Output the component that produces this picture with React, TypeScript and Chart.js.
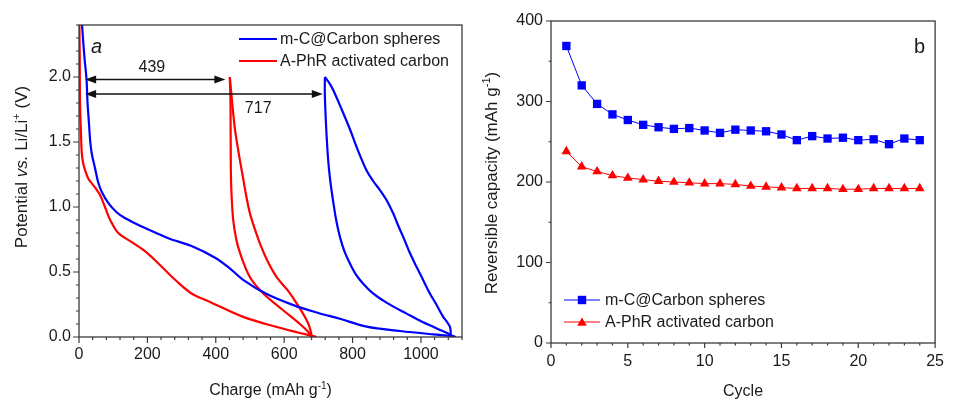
import { useEffect, useRef } from 'react';
import { Chart, registerables } from 'chart.js';

Chart.register(...registerables);

const FONT = '"Liberation Sans", Arial, Helvetica, sans-serif';
const TEXT = '#1a1a1a';
const AXIS = '#3a3a3a';
const BLUE = '#0000ff';
const RED = '#ff0000';

// ---------- Panel a: potential profiles ----------
const mcDischarge1Capacity = [6, 9, 16, 22, 25, 29, 33, 38, 45, 50, 56, 66, 86, 110, 134, 183, 261, 329, 398, 440, 480, 549, 627, 700, 763, 841, 939, 1036, 1090, 1102];
const mcDischarge1Potential = [2.6, 2.4, 2.15, 1.98, 1.8, 1.65, 1.5, 1.4, 1.32, 1.26, 1.19, 1.12, 1.03, 0.96, 0.915, 0.85, 0.76, 0.7, 0.61, 0.53, 0.44, 0.33, 0.245, 0.185, 0.14, 0.08, 0.046, 0.02, 0.008, 0];
const mcChargeCapacity = [1087, 1087, 1085, 1075, 1065, 1045, 1026, 1006, 987, 967, 948, 933, 919, 900, 880, 860, 841, 815, 792, 765, 745, 734, 719];
const mcChargePotential = [0, 0.03, 0.077, 0.12, 0.155, 0.25, 0.335, 0.44, 0.54, 0.65, 0.77, 0.86, 0.95, 1.05, 1.13, 1.2, 1.28, 1.44, 1.6, 1.77, 1.89, 1.945, 2.0];
const mcDischarge2Capacity = [719, 719, 724, 729, 734, 740, 744, 752, 763, 776, 792, 810, 831, 858, 890, 922, 958, 990, 1026, 1060, 1085, 1095];
const mcDischarge2Potential = [2.0, 1.85, 1.55, 1.35, 1.22, 1.1, 1.03, 0.9, 0.77, 0.66, 0.567, 0.48, 0.41, 0.34, 0.28, 0.23, 0.18, 0.135, 0.09, 0.05, 0.02, 0];

const apDischarge1Capacity = [0, 2, 3, 6, 8, 12, 17, 27, 38, 47, 61, 70, 76, 86, 96, 115, 154, 193, 242, 281, 329, 383, 480, 578, 640, 675, 695];
const apDischarge1Potential = [2.6, 2.2, 1.8, 1.55, 1.42, 1.34, 1.29, 1.22, 1.18, 1.15, 1.095, 1.04, 1.0, 0.93, 0.876, 0.8, 0.73, 0.66, 0.54, 0.44, 0.335, 0.27, 0.155, 0.077, 0.035, 0.013, 0];
const apChargeCapacity = [680, 679, 671, 655, 636, 610, 578, 552, 529, 513, 500, 488, 478, 466, 456, 448, 441];
const apChargePotential = [0, 0.03, 0.1, 0.18, 0.26, 0.36, 0.46, 0.58, 0.72, 0.84, 0.95, 1.1, 1.25, 1.43, 1.6, 1.8, 2.0];
const apDischarge2Capacity = [441, 443, 444, 446, 451, 460, 471, 500, 539, 597, 646, 670, 680];
const apDischarge2Potential = [2.0, 1.8, 1.29, 1.1, 0.9, 0.75, 0.645, 0.46, 0.335, 0.206, 0.1, 0.04, 0];

const chargeTicks = [0, 200, 400, 600, 800, 1000];
const potentialTicks = [0, 0.5, 1.0, 1.5, 2.0];

// Arrow annotations (data units)
const arrowFrom = [18, 18];
const arrowTo = [428, 713];
const arrowPotential = [1.98, 1.87];
const arrowLabels = ['439', '717'];
const arrowLabelCapacity = [213, 524];
const arrowLabelPotential = [2.07, 1.76];

// ---------- Panel b: cycling ----------
const cycles = [1, 2, 3, 4, 5, 6, 7, 8, 9, 10, 11, 12, 13, 14, 15, 16, 17, 18, 19, 20, 21, 22, 23, 24];
const mcReversible = [369, 320, 297, 284, 277, 271, 268, 266, 267, 264, 261, 265, 264, 263, 259, 252, 257, 254, 255, 252, 253, 247, 254, 252];
const apReversible = [238, 219, 213, 208, 205, 203, 201, 200, 199, 198, 198, 197, 195, 194, 193, 192, 192, 192, 191, 191, 192, 192, 192, 192];
const cycleTicks = [0, 5, 10, 15, 20, 25];
const capacityTicks = [0, 100, 200, 300, 400];

const seriesNames = ['m-C@Carbon spheres', 'A-PhR activated carbon'];

type Seg = { t: string; italic?: boolean; sup?: boolean };

function segFont(s: Seg, size: number) {
  const sz = s.sup ? Math.round(size * 0.65) : size;
  return `${s.italic ? 'italic ' : ''}${sz}px ${FONT}`;
}

function drawRich(ctx: CanvasRenderingContext2D, segs: Seg[], x: number, y: number, size: number, rotate: boolean) {
  ctx.save();
  ctx.translate(x, y);
  if (rotate) ctx.rotate(-Math.PI / 2);
  let w = 0;
  for (const s of segs) { ctx.font = segFont(s, size); w += ctx.measureText(s.t).width; }
  let cx = -w / 2;
  ctx.fillStyle = TEXT;
  ctx.textBaseline = 'alphabetic';
  ctx.textAlign = 'left';
  for (const s of segs) {
    ctx.font = segFont(s, size);
    ctx.fillText(s.t, cx, s.sup ? -size * 0.4 : 0);
    cx += ctx.measureText(s.t).width;
  }
  ctx.restore();
}

function pts(xs: number[], ys: number[]) {
  return xs.map((x, i) => ({ x, y: ys[i] }));
}

function drawFrameAndTicks(chart: any, xMinor: number, yMinor: number, xMajor: number[], yMajor: number[], len: { xM: number; xm: number; yM: number; ym: number }) {
  const { ctx, chartArea: a, scales } = chart;
  const xs = scales.x, ys = scales.y;
  ctx.save();
  ctx.strokeStyle = AXIS;
  ctx.lineWidth = 1.3;
  ctx.strokeRect(a.left, a.top, a.right - a.left, a.bottom - a.top);
  ctx.lineWidth = 1.2;
  ctx.beginPath();
  const nx = Math.round((xs.max - xs.min) / xMinor);
  for (let i = 0; i <= nx; i++) {
    const v = xs.min + i * xMinor;
    const major = xMajor.some((t) => Math.abs(t - v) < 1e-6);
    const p = xs.getPixelForValue(v);
    ctx.moveTo(p, a.bottom);
    ctx.lineTo(p, a.bottom + (major ? len.xM : len.xm));
  }
  const ny = Math.round((ys.max - ys.min) / yMinor);
  for (let i = 0; i <= ny; i++) {
    const v = ys.min + i * yMinor;
    const major = yMajor.some((t) => Math.abs(t - v) < 1e-6);
    const p = ys.getPixelForValue(v);
    ctx.moveTo(a.left, p);
    ctx.lineTo(a.left - (major ? len.yM : len.ym), p);
  }
  ctx.stroke();
  ctx.restore();
}

function arrowHead(ctx: CanvasRenderingContext2D, x: number, y: number, dir: number) {
  ctx.beginPath();
  ctx.moveTo(x, y);
  ctx.lineTo(x + dir * 11, y - 4);
  ctx.lineTo(x + dir * 11, y + 4);
  ctx.closePath();
  ctx.fill();
}

const panelAPlugin = {
  id: 'panelA',
  afterDraw(chart: any) {
    const { ctx, chartArea: a, scales } = chart;
    drawFrameAndTicks(chart, 40, 0.1, chargeTicks, potentialTicks, { xM: 6, xm: 3, yM: 6, ym: 3 });
    ctx.save();
    ctx.strokeStyle = '#111';
    ctx.fillStyle = '#111';
    ctx.lineWidth = 1.5;
    arrowFrom.forEach((f, i) => {
      const x0 = scales.x.getPixelForValue(f);
      const x1 = scales.x.getPixelForValue(arrowTo[i]);
      const y = scales.y.getPixelForValue(arrowPotential[i]);
      ctx.beginPath();
      ctx.moveTo(x0 + 6, y);
      ctx.lineTo(x1 - 6, y);
      ctx.stroke();
      arrowHead(ctx, x0, y, 1);
      arrowHead(ctx, x1, y, -1);
      ctx.font = `16px ${FONT}`;
      ctx.fillStyle = TEXT;
      ctx.textAlign = 'center';
      ctx.textBaseline = 'middle';
      ctx.fillText(arrowLabels[i], scales.x.getPixelForValue(arrowLabelCapacity[i]), scales.y.getPixelForValue(arrowLabelPotential[i]));
      ctx.fillStyle = '#111';
    });
    ctx.font = `italic 20px ${FONT}`;
    ctx.fillStyle = TEXT;
    ctx.textAlign = 'left';
    ctx.textBaseline = 'alphabetic';
    ctx.fillText('a', a.left + 12, a.top + 28);
    const colors = [BLUE, RED];
    seriesNames.forEach((n, i) => {
      const y = a.top + 14 + i * 22;
      const lx = a.right - 223;
      ctx.strokeStyle = colors[i];
      ctx.lineWidth = 2;
      ctx.beginPath();
      ctx.moveTo(lx, y);
      ctx.lineTo(lx + 38, y);
      ctx.stroke();
      ctx.font = `16px ${FONT}`;
      ctx.fillStyle = TEXT;
      ctx.textBaseline = 'middle';
      ctx.fillText(n, lx + 41, y + 1);
    });
    ctx.restore();
    drawRich(ctx, [{ t: 'Charge (mAh g' }, { t: '-1', sup: true }, { t: ')' }], (a.left + a.right) / 2, 395, 16, false);
    drawRich(ctx, [{ t: 'Potential ' }, { t: 'vs.', italic: true }, { t: ' Li/Li' }, { t: '+', sup: true }, { t: ' (V)' }], 27, 167, 17, true);
  },
};

function drawSquare(ctx: CanvasRenderingContext2D, x: number, y: number, s: number) {
  ctx.fillRect(x - s / 2, y - s / 2, s, s);
}
function drawTri(ctx: CanvasRenderingContext2D, x: number, y: number, r: number) {
  ctx.beginPath();
  ctx.moveTo(x, y - r);
  ctx.lineTo(x + r * 0.866, y + r / 2);
  ctx.lineTo(x - r * 0.866, y + r / 2);
  ctx.closePath();
  ctx.fill();
}

const panelBPlugin = {
  id: 'panelB',
  afterDraw(chart: any) {
    const { ctx, chartArea: a } = chart;
    drawFrameAndTicks(chart, 1, 50, cycleTicks, capacityTicks, { xM: 5, xm: 2.5, yM: 5, ym: 2.5 });
    ctx.save();
    ctx.font = `20px ${FONT}`;
    ctx.fillStyle = TEXT;
    ctx.textAlign = 'right';
    ctx.textBaseline = 'alphabetic';
    ctx.fillText('b', a.right - 10, a.top + 32);
    const colors = [BLUE, RED];
    seriesNames.forEach((n, i) => {
      const y = a.bottom - 43 + i * 22;
      const lx = a.left + 13;
      ctx.strokeStyle = colors[i];
      ctx.fillStyle = colors[i];
      ctx.lineWidth = 1;
      ctx.beginPath();
      ctx.moveTo(lx, y);
      ctx.lineTo(lx + 36, y);
      ctx.stroke();
      if (i === 0) drawSquare(ctx, lx + 18, y, 8.4);
      else drawTri(ctx, lx + 18, y + 1, 5.6);
      ctx.font = `16px ${FONT}`;
      ctx.fillStyle = TEXT;
      ctx.textAlign = 'left';
      ctx.textBaseline = 'middle';
      ctx.fillText(n, lx + 41, y + 1);
    });
    ctx.restore();
    drawRich(ctx, [{ t: 'Cycle' }], (a.left + a.right) / 2, 396, 16, false);
    drawRich(ctx, [{ t: 'Reversible capacity (mAh g' }, { t: '-1', sup: true }, { t: ')' }], 22, 183, 17, true);
  },
};

function axisBase(min: number, max: number, ticks: number[], size: number, padding: number, fmt: (v: number) => string, fit: (s: any) => void) {
  return {
    type: 'linear' as const,
    min,
    max,
    grid: { display: false, drawTicks: false },
    border: { display: false },
    ticks: { font: { family: FONT, size }, color: TEXT, padding, autoSkip: false, maxRotation: 0, minRotation: 0, callback: (v: any) => fmt(Number(v)) },
    afterBuildTicks: (s: any) => { s.ticks = ticks.map((v) => ({ value: v })); },
    afterFit: fit,
  };
}

export default function App() {
  const leftRef = useRef<HTMLCanvasElement>(null);
  const rightRef = useRef<HTMLCanvasElement>(null);

  useEffect(() => {
    const lineDs = (data: any[], color: string) => ({
      data,
      showLine: true,
      borderColor: color,
      backgroundColor: color,
      borderWidth: 2.2,
      pointRadius: 0,
      tension: 0.35,
      borderJoinStyle: 'round',
    });
    const c1 = new Chart(leftRef.current as HTMLCanvasElement, {
      type: 'scatter',
      data: {
        datasets: [
          lineDs(pts(mcDischarge1Capacity, mcDischarge1Potential), BLUE),
          lineDs(pts(mcChargeCapacity, mcChargePotential), BLUE),
          lineDs(pts(mcDischarge2Capacity, mcDischarge2Potential), BLUE),
          lineDs(pts(apDischarge1Capacity, apDischarge1Potential), RED),
          lineDs(pts(apChargeCapacity, apChargePotential), RED),
          lineDs(pts(apDischarge2Capacity, apDischarge2Potential), RED),
        ],
      },
      options: {
        responsive: false,
        maintainAspectRatio: false,
        devicePixelRatio: 1,
        animation: false,
        events: [],
        layout: { padding: { left: 0, right: 13, top: 25, bottom: 0 } },
        plugins: { legend: { display: false }, tooltip: { enabled: false } },
        scales: {
          x: axisBase(0, 1120, chargeTicks, 16, 8, (v) => String(v), (s: any) => { s.height = 64; }),
          y: axisBase(0, 2.4, potentialTicks, 16, 8, (v) => v.toFixed(1), (s: any) => { s.width = 79; }),
        },
      } as any,
      plugins: [panelAPlugin],
    });

    const c2 = new Chart(rightRef.current as HTMLCanvasElement, {
      type: 'scatter',
      data: {
        datasets: [
          {
            data: pts(cycles, mcReversible),
            showLine: true,
            borderColor: BLUE,
            backgroundColor: BLUE,
            borderWidth: 1,
            pointStyle: 'rect',
            pointRadius: 5.9,
            pointBorderWidth: 0,
          },
          {
            data: pts(cycles, apReversible),
            showLine: true,
            borderColor: RED,
            backgroundColor: RED,
            borderWidth: 1,
            pointStyle: 'triangle',
            pointRadius: 5.6,
            pointBorderWidth: 0,
          },
        ],
      },
      options: {
        responsive: false,
        maintainAspectRatio: false,
        devicePixelRatio: 1,
        animation: false,
        events: [],
        layout: { padding: { left: 0, right: 8, top: 21, bottom: 0 } },
        plugins: { legend: { display: false }, tooltip: { enabled: false } },
        scales: {
          x: axisBase(0, 25, cycleTicks, 16, 9, (v) => String(v), (s: any) => { s.height = 58; }),
          y: axisBase(0, 400, capacityTicks, 16, 8, (v) => String(v), (s: any) => { s.width = 76; }),
        },
      } as any,
      plugins: [panelBPlugin],
    });

    return () => {
      c1.destroy();
      c2.destroy();
    };
  }, []);

  return (
    <div style={{ position: 'absolute', left: 0, top: 0, width: 953, height: 401, background: '#fff' }}>
      <canvas ref={leftRef} width={475} height={401} style={{ position: 'absolute', left: 0, top: 0, display: 'block' }} />
      <canvas ref={rightRef} width={478} height={401} style={{ position: 'absolute', left: 475, top: 0, display: 'block' }} />
    </div>
  );
}
